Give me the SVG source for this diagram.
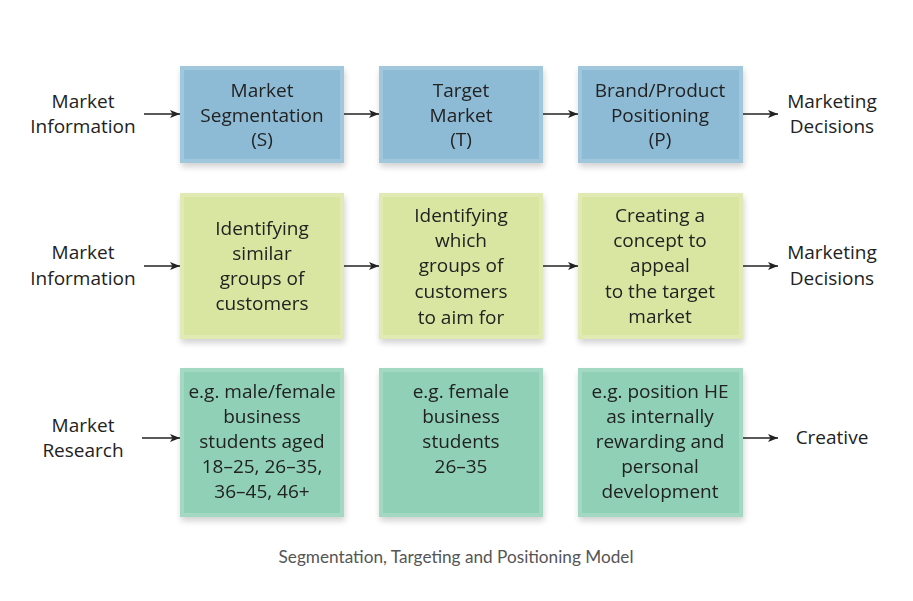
<svg xmlns="http://www.w3.org/2000/svg" width="913" height="601" viewBox="0 0 913 601">
<style>
  .t { font-family: "Open Sans", "Noto Sans", "Liberation Sans", sans-serif; font-size: 19px; fill: #222; text-anchor: middle; }
  .cap { font-family: "Lato", "Noto Sans", sans-serif; font-size: 17.2px; fill: #555; text-anchor: middle; }
  .blue { fill: #8dbbd5; }
  .lime { fill: #d9e6a1; }
  .teal { fill: #8fd0b6; }
  .hl { fill: none; stroke: #ffffff; stroke-opacity: 0.18; stroke-width: 4; }
  .conn line { stroke: #222; stroke-width: 1.5; marker-end: url(#ah); }
</style>
<defs>
  <marker id="ah" viewBox="0 0 10 10" refX="10" refY="5" markerWidth="12" markerHeight="10" markerUnits="userSpaceOnUse" orient="auto">
    <path d="M0,1 L10,5 L0,9 L2.5,5 Z" fill="#222"/>
  </marker>
  <filter id="sh" x="-10%" y="-10%" width="125%" height="130%">
    <feGaussianBlur in="SourceAlpha" stdDeviation="3"/>
    <feOffset dx="1" dy="4" result="b"/>
    <feComponentTransfer><feFuncA type="linear" slope="0.18"/></feComponentTransfer>
    <feMerge><feMergeNode/><feMergeNode in="SourceGraphic"/></feMerge>
  </filter>
</defs>
<rect width="913" height="601" fill="#ffffff"/>

<g id="labels">
  <text class="t" x="83" y="108">Market</text>
  <text class="t" x="83" y="133">Information</text>
  <text class="t" x="832" y="108">Marketing</text>
  <text class="t" x="832" y="133">Decisions</text>
  <text class="t" x="83" y="259">Market</text>
  <text class="t" x="83" y="285">Information</text>
  <text class="t" x="832" y="259">Marketing</text>
  <text class="t" x="832" y="285">Decisions</text>
  <text class="t" x="83" y="432">Market</text>
  <text class="t" x="83" y="457">Research</text>
  <text class="t" x="832" y="444">Creative</text>
</g>

<g id="node-s" filter="url(#sh)">
  <rect class="blue" x="180" y="66" width="164" height="97"/>
  <rect class="hl" x="182" y="68" width="160" height="93"/>
  <text class="t" x="262" y="97">Market</text>
  <text class="t" x="262" y="122">Segmentation</text>
  <text class="t" x="262" y="146">(S)</text>
</g>
<g id="node-t" filter="url(#sh)">
  <rect class="blue" x="379" y="66" width="164" height="97"/>
  <rect class="hl" x="381" y="68" width="160" height="93"/>
  <text class="t" x="461" y="97">Target</text>
  <text class="t" x="461" y="122">Market</text>
  <text class="t" x="461" y="146">(T)</text>
</g>
<g id="node-p" filter="url(#sh)">
  <rect class="blue" x="578" y="66" width="165" height="97"/>
  <rect class="hl" x="580" y="68" width="161" height="93"/>
  <text class="t" x="660" y="97">Brand/Product</text>
  <text class="t" x="660" y="122">Positioning</text>
  <text class="t" x="660" y="146">(P)</text>
</g>

<g id="node-s2" filter="url(#sh)">
  <rect class="lime" x="180" y="193" width="164" height="146"/>
  <rect class="hl" x="182" y="195" width="160" height="142"/>
  <text class="t" x="262" y="235">Identifying</text>
  <text class="t" x="262" y="260">similar</text>
  <text class="t" x="262" y="285">groups of</text>
  <text class="t" x="262" y="310">customers</text>
</g>
<g id="node-t2" filter="url(#sh)">
  <rect class="lime" x="379" y="193" width="164" height="146"/>
  <rect class="hl" x="381" y="195" width="160" height="142"/>
  <text class="t" x="461" y="222">Identifying</text>
  <text class="t" x="461" y="247">which</text>
  <text class="t" x="461" y="272">groups of</text>
  <text class="t" x="461" y="298">customers</text>
  <text class="t" x="461" y="324">to aim for</text>
</g>
<g id="node-p2" filter="url(#sh)">
  <rect class="lime" x="578" y="193" width="165" height="146"/>
  <rect class="hl" x="580" y="195" width="161" height="142"/>
  <text class="t" x="660" y="222">Creating a</text>
  <text class="t" x="660" y="247">concept to</text>
  <text class="t" x="660" y="272">appeal</text>
  <text class="t" x="660" y="298">to the target</text>
  <text class="t" x="660" y="323">market</text>
</g>

<g id="node-s3" filter="url(#sh)">
  <rect class="teal" x="180" y="368" width="164" height="149"/>
  <rect class="hl" x="182" y="370" width="160" height="145"/>
  <text class="t" x="262" y="398">e.g. male/female</text>
  <text class="t" x="262" y="423">business</text>
  <text class="t" x="262" y="448">students aged</text>
  <text class="t" x="262" y="473">18–25, 26–35,</text>
  <text class="t" x="262" y="498">36–45, 46+</text>
</g>
<g id="node-t3" filter="url(#sh)">
  <rect class="teal" x="379" y="368" width="164" height="149"/>
  <rect class="hl" x="381" y="370" width="160" height="145"/>
  <text class="t" x="461" y="398">e.g. female</text>
  <text class="t" x="461" y="423">business</text>
  <text class="t" x="461" y="448">students</text>
  <text class="t" x="461" y="473">26–35</text>
</g>
<g id="node-p3" filter="url(#sh)">
  <rect class="teal" x="578" y="368" width="165" height="149"/>
  <rect class="hl" x="580" y="370" width="161" height="145"/>
  <text class="t" x="660" y="398">e.g. position HE</text>
  <text class="t" x="660" y="423">as internally</text>
  <text class="t" x="660" y="448">rewarding and</text>
  <text class="t" x="660" y="473">personal</text>
  <text class="t" x="660" y="498">development</text>
</g>

<g id="connectors" class="conn">
  <line x1="144" y1="114" x2="180" y2="114"/>
  <line x1="344" y1="114" x2="379" y2="114"/>
  <line x1="543" y1="114" x2="578" y2="114"/>
  <line x1="743" y1="114" x2="778" y2="114"/>
  <line x1="144" y1="266" x2="180" y2="266"/>
  <line x1="344" y1="266" x2="379" y2="266"/>
  <line x1="543" y1="266" x2="578" y2="266"/>
  <line x1="743" y1="266" x2="778" y2="266"/>
  <line x1="142" y1="438" x2="180" y2="438"/>
  <line x1="743" y1="438" x2="778" y2="438"/>
</g>

<text class="cap" x="456" y="563">Segmentation, Targeting and Positioning Model</text>
</svg>
